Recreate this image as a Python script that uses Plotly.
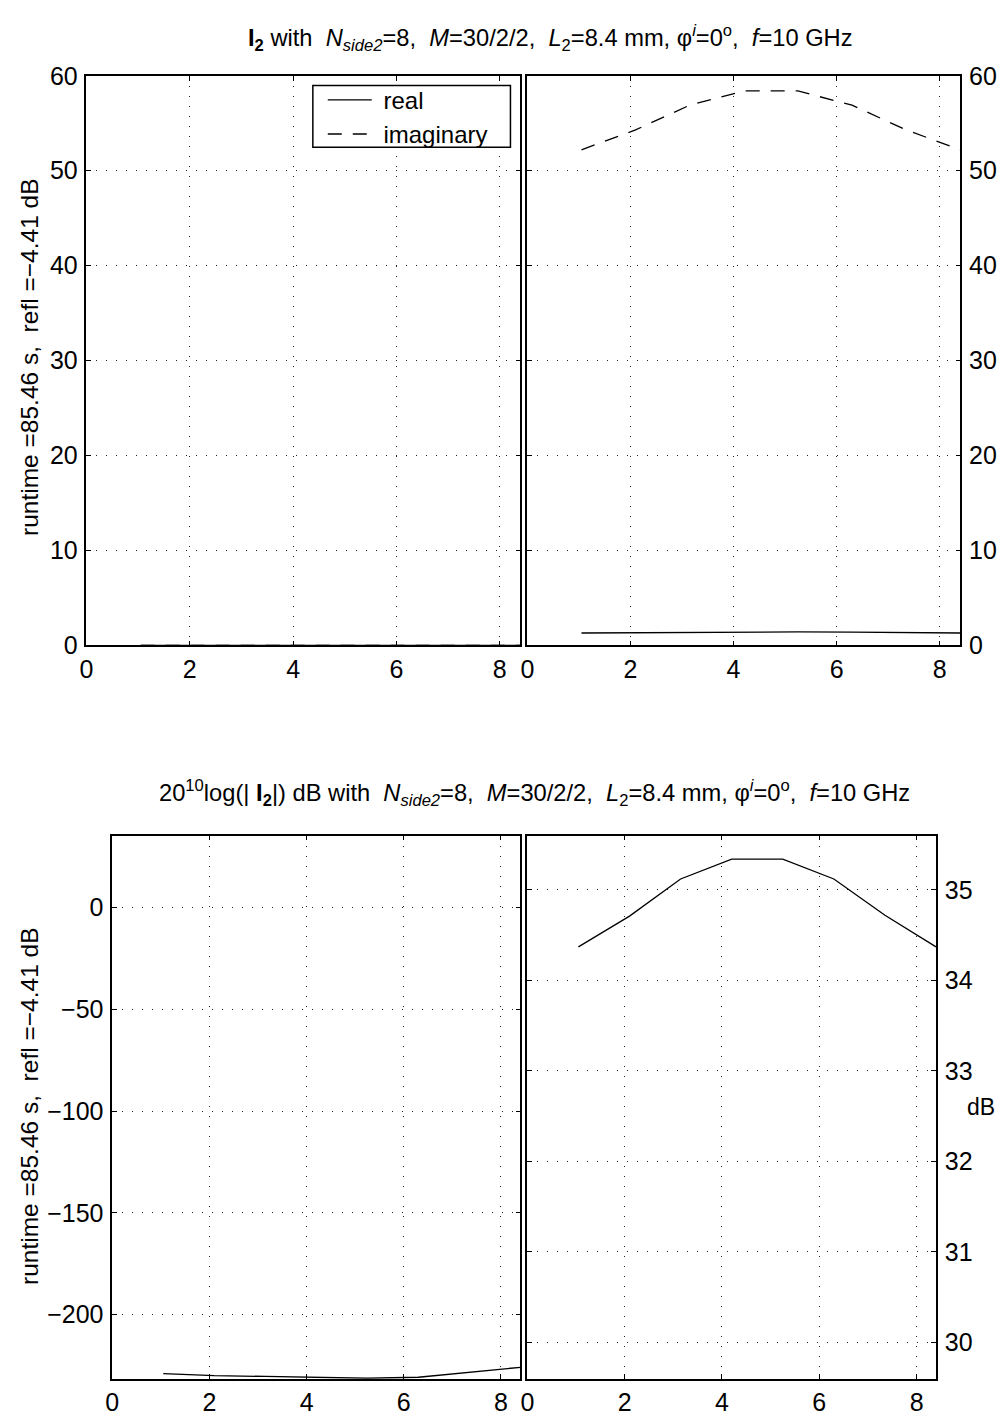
import plotly.graph_objects as go

# ---- data ----
x_pos = [1.05, 2.1, 3.15, 4.2, 5.25, 6.3, 7.35, 8.4]

# top-left panel (essentially zero currents)
left_real = [3.0e-12, 2.8e-12, 2.7e-12, 2.6e-12, 2.5e-12, 2.6e-12, 3.0e-12, 4.0e-12]
left_imag = [1.0e-12, 0.9e-12, 0.9e-12, 0.8e-12, 0.8e-12, 0.8e-12, 1.0e-12, 1.2e-12]

# top-right panel
right_real = [1.30, 1.35, 1.40, 1.42, 1.42, 1.40, 1.35, 1.30]
right_imag = [52.2, 54.3, 56.9, 58.4, 58.4, 56.9, 54.3, 52.2]

# bottom panels (dB)
left_db = [-229.0, -230.0, -230.4, -230.7, -231.3, -230.8, -228.5, -225.9]
right_db = [34.37, 34.71, 35.12, 35.34, 35.34, 35.12, 34.72, 34.37]

x_ticks = [0, 2, 4, 6, 8]
top_y_ticks = [0, 10, 20, 30, 40, 50, 60]
bl_y_ticks = [-200, -150, -100, -50, 0]
br_y_ticks = [30, 31, 32, 33, 34, 35]

legend_names = ["\u00a0real", "\u00a0imaginary"]
ylabel_text = "runtime =85.46 s,  refl =\u22124.41 dB"
title_top = ("<b>I</b><sub><b>2</b></sub> with  <i>N</i><sub><i>side2</i></sub>=8,  "
             "<i>M</i>=30/2/2,  <i>L</i><sub>2</sub>=8.4 mm, \u03c6<sup><i>i</i></sup>=0<sup>o</sup>,  "
             "<i>f</i>=10 GHz")
title_bot = ("20<sup>10</sup>log(| <b>I</b><sub><b>2</b></sub>|) dB with  <i>N</i><sub><i>side2</i></sub>=8,  "
             "<i>M</i>=30/2/2,  <i>L</i><sub>2</sub>=8.4 mm, \u03c6<sup><i>i</i></sup>=0<sup>o</sup>,  "
             "<i>f</i>=10 GHz")

W, H = 1000, 1426
FONT = "Liberation Sans, Arial, Helvetica, sans-serif"

def px(xp):
    return xp / W

def py(yp):
    return 1 - yp / H

fig = go.Figure()

line_w = 1.3
dash_pat = "14px,11px"

# top-left
fig.add_trace(go.Scatter(x=x_pos, y=left_real, mode="lines", name=legend_names[0],
                         line=dict(color="black", width=line_w), xaxis="x", yaxis="y"))
fig.add_trace(go.Scatter(x=x_pos, y=left_imag, mode="lines", name=legend_names[1],
                         line=dict(color="black", width=line_w, dash=dash_pat), xaxis="x", yaxis="y"))
# top-right
fig.add_trace(go.Scatter(x=x_pos, y=right_real, mode="lines", showlegend=False,
                         line=dict(color="black", width=line_w), xaxis="x2", yaxis="y2"))
fig.add_trace(go.Scatter(x=x_pos, y=right_imag, mode="lines", showlegend=False,
                         line=dict(color="black", width=line_w, dash=dash_pat), xaxis="x2", yaxis="y2"))
# bottom-left
fig.add_trace(go.Scatter(x=x_pos, y=left_db, mode="lines", showlegend=False,
                         line=dict(color="black", width=line_w), xaxis="x3", yaxis="y3"))
# bottom-right
fig.add_trace(go.Scatter(x=x_pos, y=right_db, mode="lines", showlegend=False,
                         line=dict(color="black", width=line_w), xaxis="x4", yaxis="y4"))

tick_font = dict(family=FONT, size=25, color="black")

def xaxis(domain, anchor):
    return dict(domain=domain, anchor=anchor, range=[0, 8.4], tickvals=x_ticks,
                showline=True, linecolor="black", linewidth=1.5, mirror="ticks",
                ticks="inside", ticklen=5, tickwidth=1, tickcolor="black",
                showgrid=True, gridcolor="#222", gridwidth=1, griddash="1px,9px",
                zeroline=False, tickfont=tick_font, ticklabelstandoff=1)

def yaxis(domain, anchor, rng, tv, side):
    return dict(domain=domain, anchor=anchor, range=rng, tickvals=tv, side=side,
                showline=True, linecolor="black", linewidth=1.5, mirror="ticks",
                ticks="inside", ticklen=5, tickwidth=1, tickcolor="black",
                showgrid=True, gridcolor="#222", gridwidth=1, griddash="1px,9px",
                zeroline=False, tickfont=tick_font, ticklabelstandoff=2)

top_dom = [py(644), py(63)]
bot_dom = [py(1392), py(838)]

fig.update_layout(
    width=W, height=H,
    margin=dict(l=0, r=0, t=0, b=0),
    paper_bgcolor="white", plot_bgcolor="white",
    font=dict(family=FONT, color="black"),
    xaxis=xaxis([px(80), px(517)], "y"),
    yaxis=yaxis(top_dom, "x", [0, 60], top_y_ticks, "left"),
    xaxis2=xaxis([px(524), px(960)], "y2"),
    yaxis2=yaxis(top_dom, "x2", [0, 60], top_y_ticks, "right"),
    xaxis3=xaxis([px(106), px(517)], "y3"),
    yaxis3=yaxis(bot_dom, "x3", [-231.5, 35.4], bl_y_ticks, "left"),
    xaxis4=xaxis([px(524), px(935.6)], "y4"),
    yaxis4=yaxis(bot_dom, "x4", [29.6, 35.6], br_y_ticks, "right"),
    showlegend=True,
    legend=dict(x=px(318), y=py(65), xanchor="left", yanchor="top",
                bgcolor="rgba(0,0,0,0)", borderwidth=0,
                font=dict(family=FONT, size=24, color="black"),
                tracegroupgap=0, itemwidth=44),
    shapes=[
        dict(type="rect", xref="paper", yref="paper",
             x0=px(308), x1=px(507), y0=py(136), y1=py(73),
             fillcolor="white", line=dict(color="black", width=1.5), layer="above"),
    ],
    annotations=[
        dict(text=title_top, x=px(547), y=py(24), xref="paper", yref="paper",
             showarrow=False, xanchor="center", yanchor="middle",
             font=dict(family=FONT, size=23.7, color="black")),
        dict(text=title_bot, x=px(531), y=py(795), xref="paper", yref="paper",
             showarrow=False, xanchor="center", yanchor="middle",
             font=dict(family=FONT, size=23.7, color="black")),
        dict(text=ylabel_text, x=px(22), y=py(350), xref="paper", yref="paper",
             showarrow=False, textangle=-90, xanchor="center", yanchor="middle",
             font=dict(family=FONT, size=24.5, color="black")),
        dict(text=ylabel_text, x=px(22), y=py(1114), xref="paper", yref="paper",
             showarrow=False, textangle=-90, xanchor="center", yanchor="middle",
             font=dict(family=FONT, size=24.5, color="black")),
        dict(text="dB", x=px(997), y=py(1115), xref="paper", yref="paper",
             showarrow=False, xanchor="right", yanchor="middle",
             font=dict(family=FONT, size=23, color="black")),
    ],
)

fig.write_html("out.html")
